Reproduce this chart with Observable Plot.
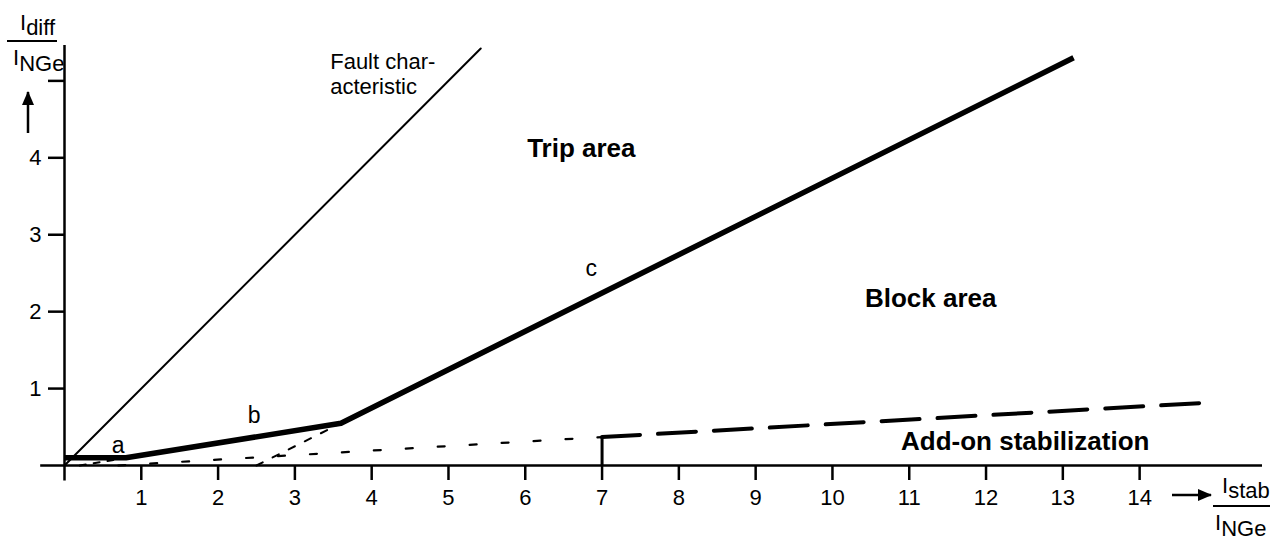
<!DOCTYPE html>
<html><head><meta charset="utf-8">
<script src="https://cdn.jsdelivr.net/npm/d3@7"></script>
<script src="https://cdn.jsdelivr.net/npm/@observablehq/plot@0.6"></script>
<style>body{margin:0;background:#fff} svg{display:block}</style>
</head><body><div id="chart"></div>
<script>
// ---- data ----
const xTicks = [1,2,3,4,5,6,7,8,9,10,11,12,13,14];
const yTicks = [1,2,3,4,5];
const yTickLabels = {1:"1",2:"2",3:"3",4:"4",5:""};
const faultCharacteristic = [{x:0,y:0},{x:5.42,y:5.42}];
const tripCharacteristic = [{x:0,y:0.1},{x:0.8,y:0.1},{x:3.6,y:0.55},{x:13.14,y:5.3}];
const extensionB = [{x:0.2,y:0},{x:0.8,y:0.1}];
const extensionC = [{x:2.5,y:0},{x:3.6,y:0.55}];
const addOnLow = [{x:0.7,y:0},{x:7,y:0.37}];
const addOnHigh = [{x:7,y:0.37},{x:14.95,y:0.82}];
const addOnStep = [{x:7,y1:0,y2:0.37}];
const areaLabels = [
  {x:6.73,y:4.12,text:"Trip area"},
  {x:11.28,y:2.17,text:"Block area"},
  {x:12.51,y:0.31,text:"Add-on stabilization"}
];
const segmentLabels = [
  {x:0.7,y:0.26,text:"a"},
  {x:2.47,y:0.65,text:"b"},
  {x:6.86,y:2.56,text:"c"}
];
const faultLabel = [
  {x:3.46,y:5.24,text:"Fault char-"},
  {x:3.46,y:4.92,text:"acteristic"}
];
const xAxisExtent = [-0.31, 15.6];
const yAxisExtent = [-0.2, 5.46];

const font = "'Liberation Sans', Arial, Helvetica, sans-serif";

const plot = Plot.plot({
  width: 1284, height: 540,
  marginLeft: 64, marginRight: 22, marginTop: 45, marginBottom: 75,
  x: {domain: [0, 15.6], label: null},
  y: {domain: [0, 5.46], label: null},
  style: {fontFamily: font, color: "black", background: "white", overflow: "visible"},
  marks: [
    Plot.axisX(xTicks, {tickSize: 15, tickPadding: 9, fontSize: 22, strokeWidth: 2.5, label: null}),
    Plot.axisY(yTicks, {tickSize: 16, tickPadding: 7, fontSize: 22, strokeWidth: 2.5, label: null, tickFormat: d => yTickLabels[d]}),
    Plot.ruleY([0], {x1: xAxisExtent[0], x2: xAxisExtent[1], strokeWidth: 2.5}),
    Plot.ruleX([0], {y1: yAxisExtent[0], y2: yAxisExtent[1], strokeWidth: 2.5}),
    Plot.line(faultCharacteristic, {x: "x", y: "y", strokeWidth: 2}),
    Plot.line(extensionB, {x: "x", y: "y", strokeWidth: 2, strokeDasharray: "6,8"}),
    Plot.line(extensionC, {x: "x", y: "y", strokeWidth: 2, strokeDasharray: "7,11"}),
    Plot.line(addOnLow, {x: "x", y: "y", strokeWidth: 2.2, strokeDasharray: "7,25"}),
    Plot.line(addOnHigh, {x: "x", y: "y", strokeWidth: 4, strokeDasharray: "38,18"}),
    Plot.ruleX(addOnStep, {x: "x", y1: "y1", y2: "y2", strokeWidth: 3}),
    Plot.line(tripCharacteristic, {x: "x", y: "y", strokeWidth: 5.5, strokeLinejoin: "round", strokeLinecap: "butt"}),
    Plot.text(areaLabels, {x: "x", y: "y", text: "text", fontSize: 26, fontWeight: "bold"}),
    Plot.text(segmentLabels, {x: "x", y: "y", text: "text", fontSize: 23}),
    Plot.text(faultLabel, {x: "x", y: "y", text: "text", fontSize: 22, textAnchor: "start"})
  ]
});

// axis titles (fractions with arrows)
const svg = d3.select(plot);
svg.append("defs").html('<marker id="ah" viewBox="0 0 14 12" refX="13" refY="6" markerWidth="14" markerHeight="12" markerUnits="userSpaceOnUse" orient="auto"><path d="M0,0L14,6L0,12z" fill="black"/></marker>');
const g = svg.append("g").attr("font-family", font).attr("font-size", 22).attr("fill", "black").attr("text-anchor", "start");
function frac(x, yTop, num, numSub, den, denSub, barX1, barX2, barY) {
  const t1 = g.append("text").attr("x", x).attr("y", yTop);
  t1.append("tspan").text(num);
  t1.append("tspan").attr("dy", 5).text(numSub);
  g.append("line").attr("x1", barX1).attr("x2", barX2).attr("y1", barY).attr("y2", barY).attr("stroke", "black").attr("stroke-width", 2);
  const t2 = g.append("text").attr("x", x - 7).attr("y", barY + 24);
  t2.append("tspan").text(den);
  t2.append("tspan").attr("dy", 6).text(denSub);
}
frac(20, 30, "I", "diff", "I", "NGe", 7, 57, 41);
frac(1222, 493, "I", "stab", "I", "NGe", 1213, 1270, 506);
// arrows
svg.append("line").attr("x1", 28).attr("y1", 133).attr("x2", 28).attr("y2", 92).attr("stroke", "black").attr("stroke-width", 2.5).attr("marker-end", "url(#ah)");
svg.append("line").attr("x1", 1172).attr("y1", 495).attr("x2", 1211).attr("y2", 495).attr("stroke", "black").attr("stroke-width", 2.5).attr("marker-end", "url(#ah)");

document.getElementById("chart").appendChild(plot);
</script>
</body></html>
